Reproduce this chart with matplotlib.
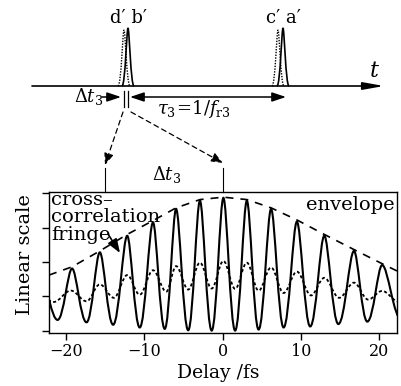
import matplotlib
import matplotlib.pyplot as plt
from matplotlib.path import Path
from matplotlib.patches import PathPatch

matplotlib.use("Agg")

# fringe extrema (delay /fs, linear signal)
solid_x = [-23.0, -21.1, -19.25, -17.4, -15.7, -14.0, -12.2, -10.6, -8.9, -7.4, -5.95, -4.4,
           -2.9, -1.4, 0.1, 1.6, 3.1, 4.6, 6.2, 7.8, 9.5, 11.2, 13.0, 14.8, 16.8, 18.5, 20.4, 22.9]
solid_y = [1.40, 0.32, 1.81, 0.25, 2.28, 0.18, 2.76, 0.10, 3.15, 0.06, 3.54, 0.02,
           3.78, 0.01, 3.86, 0.01, 3.78, 0.04, 3.54, 0.10, 3.17, 0.13, 2.76, 0.20, 2.32, 0.27, 1.91, 0.32]

dash_x = [-23.5, -21.6, -19.4, -17.4, -15.7, -13.9, -12.2, -10.6, -8.9, -7.2, -5.95, -4.4, -2.9,
          -1.4, 0.1, 1.6, 3.1, 4.6, 6.2, 7.8, 9.5, 11.3, 13.0, 14.9, 16.8, 18.6, 20.4, 22.5]
dash_y = [1.05, 0.84, 1.17, 0.86, 1.35, 0.96, 1.62, 1.05, 1.76, 1.14, 1.88, 1.20, 1.98,
          1.23, 2.03, 1.22, 1.98, 1.17, 1.84, 1.10, 1.72, 1.03, 1.54, 0.96, 1.40, 0.91, 1.16, 0.85]

env_x = [-22.2, -19.25, -15.7, -12.2, -8.9, -5.95, -2.9, 0.1, 3.1, 6.2, 9.5, 13.0, 16.8, 20.4, 22.3]
env_y = [1.62, 1.86, 2.32, 2.80, 3.20, 3.57, 3.81, 3.88, 3.81, 3.57, 3.22, 2.80, 2.36, 1.95, 1.74]

delta_marks = [-15.0, 0.0]
xticks = [-20, -10, 0, 10, 20]

# schematic pulse train (pixel units of the sketch)
pulse_solid = [128, 283]
pulse_dotted = [124, 278]
pulse_labels = ["d\u2032 b\u2032", "c\u2032 a\u2032"]

plt.rcParams["font.family"] = ["DejaVu Serif"]
plt.rcParams["mathtext.fontset"] = "dejavuserif"


def fringe_path(xs, ys, k_peak, k_trough):
    verts = [(xs[0], ys[0])]
    codes = [Path.MOVETO]
    for i in range(len(xs) - 1):
        x0, y0, x1, y1 = xs[i], ys[i], xs[i + 1], ys[i + 1]
        dx = x1 - x0
        k0 = k_peak if y0 > y1 else k_trough
        k1 = k_peak if y1 > y0 else k_trough
        verts += [(x0 + k0 * dx, y0), (x1 - k1 * dx, y1), (x1, y1)]
        codes += [Path.CURVE4] * 3
    return Path(verts, codes)


def pulse_path(c, base, top, w):
    verts = [(c - w, base), (c - 0.45 * w, base), (c - 0.22 * w, top), (c, top),
             (c + 0.22 * w, top), (c + 0.45 * w, base), (c + w, base)]
    codes = [Path.MOVETO] + [Path.CURVE4] * 6
    return Path(verts, codes)


fig = plt.figure(figsize=(4.01, 3.86), dpi=100)

ax = fig.add_axes([49 / 401, 1 - 333 / 386, 348 / 401, 141 / 386])
ax.add_patch(PathPatch(fringe_path(solid_x, solid_y, 0.30, 0.42), fill=False, lw=1.5, ec="black"))
ax.add_patch(PathPatch(fringe_path(dash_x, dash_y, 0.36, 0.36), fill=False, lw=1.3, ec="black",
                       ls=(0, (1.7, 1.3))))
ax.plot(env_x, env_y, color="black", lw=1.2, ls=(0, (4.8, 4.2)))
ax.set_xlim(-22.2, 22.3)
ax.set_ylim(-0.06, 4.03)
ax.set_xticks(xticks)
ax.set_yticks([0, 1, 2, 3, 4])
ax.set_yticklabels([])
ax.tick_params(direction="out", length=5, width=1, labelsize=11.5, pad=2)
for s in ax.spines.values():
    s.set_linewidth(1)

# delta t marks above the plot
tr = ax.get_xaxis_transform()
for d in delta_marks:
    ax.plot([d, d], [1.0, 1.17], color="black", lw=0.8, transform=tr, clip_on=False)

# overlay in pixel units for the sketch and labels, drawn on top
ax0 = fig.add_axes([0, 0, 1, 1])
ax0.set_xlim(0, 401)
ax0.set_ylim(386, 0)
ax0.axis("off")
ax0.patch.set_visible(False)
ax0.set_zorder(5)

# texts inside / around the plot
ax0.text(51, 205, "cross\u2013", fontsize=14, va="baseline")
ax0.text(51, 222.5, "correlation", fontsize=14, va="baseline")
ax0.text(51, 240, "fringe", fontsize=14, va="baseline")
ax0.text(395, 210, "envelope", fontsize=14, va="baseline", ha="right")
ax0.annotate("", xy=(120, 253), xytext=(108, 234),
             arrowprops=dict(arrowstyle="-|>,head_length=0.6,head_width=0.22", color="black",
                             lw=1.2, shrinkA=0, shrinkB=0, mutation_scale=14))
ax0.text(25, 255, "Linear scale", fontsize=14, rotation=90, ha="center", va="center")
ax0.text(218, 373, "Delay /fs", fontsize=13.5, ha="center", va="center")
ax0.text(152, 180, r"$\Delta t_3$", fontsize=13, va="baseline")

# schematic: time axis and pulses
base = 86
ax0.annotate("", xy=(384, base), xytext=(32, base),
             arrowprops=dict(arrowstyle="-|>,head_length=0.9,head_width=0.16", color="black",
                             lw=1.2, shrinkA=0, shrinkB=0, mutation_scale=14))
ax0.text(374, 77, "$t$", fontsize=16, ha="center", va="baseline")
for c in pulse_solid:
    ax0.add_patch(PathPatch(pulse_path(c, base, 28, 6), fill=False, lw=1.2, ec="black"))
for c in pulse_dotted:
    ax0.add_patch(PathPatch(pulse_path(c, base, 30, 6), fill=False, lw=1.0, ec="black",
                            ls=(0, (1, 1))))
for c, lab in zip(pulse_solid, pulse_labels):
    ax0.text(c, 23, lab, fontsize=13, ha="center", va="baseline")

ax0.text(74, 102, r"$\Delta t_3$", fontsize=13, va="baseline")
ax0.annotate("", xy=(121, 97), xytext=(102, 97),
             arrowprops=dict(arrowstyle="-|>,head_length=0.6,head_width=0.2", color="black",
                             lw=1.1, shrinkA=0, shrinkB=0, mutation_scale=14))
ax0.plot([123.5, 123.5], [91, 107], color="black", lw=0.9)
ax0.plot([128, 128], [91, 107], color="black", lw=0.9)
ax0.annotate("", xy=(286, 97), xytext=(130, 97),
             arrowprops=dict(arrowstyle="<|-|>,head_length=0.6,head_width=0.2", color="black",
                             lw=1.1, shrinkA=0, shrinkB=0, mutation_scale=14))
ax0.text(157, 114.5, r"$\tau_3\!=\!1/f_{\rm r3}$", fontsize=13, va="baseline")

# dashed zoom arrows
ax0.annotate("", xy=(105, 165), xytext=(123, 112),
             arrowprops=dict(arrowstyle="-|>,head_length=0.5,head_width=0.2", color="black",
                             lw=0.9, ls=(0, (4, 3)), shrinkA=0, shrinkB=0, mutation_scale=14))
ax0.annotate("", xy=(223, 163), xytext=(131, 112),
             arrowprops=dict(arrowstyle="-|>,head_length=0.5,head_width=0.2", color="black",
                             lw=0.9, ls=(0, (4, 3)), shrinkA=0, shrinkB=0, mutation_scale=14))

fig.savefig("out.png", dpi=100)
